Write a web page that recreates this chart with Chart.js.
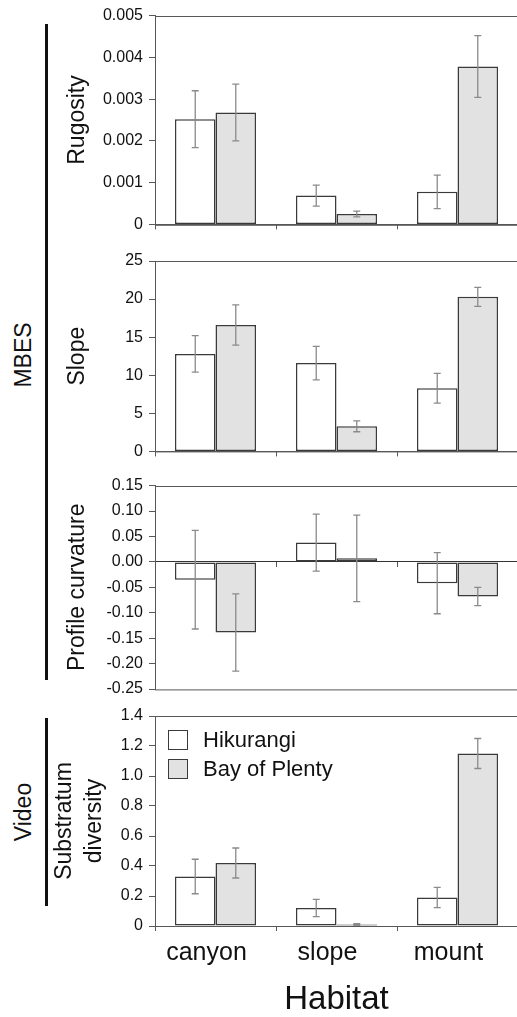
<!DOCTYPE html>
<html>
<head>
<meta charset="utf-8">
<script src="https://cdn.jsdelivr.net/npm/chart.js@4.4.1/dist/chart.umd.min.js"></script>
<style>
  html, body { margin: 0; padding: 0; background: #fff; overflow: hidden; }
  body { width: 517px; height: 1017px; position: relative; font-family: "Liberation Sans", Arial, sans-serif; color: #111; }
  canvas { position: absolute; left: 0; }
  .side { position: absolute; font-size: 23px; line-height: 1; white-space: nowrap; transform: translate(-50%, -50%) rotate(-90deg); }
  .bracket { position: absolute; left: 45px; width: 3px; background: #111; }
  .legend { position: absolute; left: 168px; top: 730px; font-size: 22px; }
  .legend .row { display: flex; align-items: center; height: 20px; margin-bottom: 9px; }
  .legend .box { box-sizing: border-box; width: 20px; height: 20px; border: 1.5px solid #3a3a3a; margin-right: 15px; }
</style>
</head>
<body>

<div class="bracket" style="top:24px;height:656px"></div>
<div class="bracket" style="top:718px;height:188px"></div>
<div class="side" style="left:23px;top:355px">MBES</div>
<div class="side" style="left:23px;top:812px">Video</div>

<canvas id="rugosity" width="530" height="240" style="top:0px"></canvas>
<canvas id="slope" width="530" height="222" style="top:245px"></canvas>
<canvas id="curvature" width="530" height="235" style="top:470px"></canvas>
<canvas id="substratum" width="530" height="320" style="top:700px"></canvas>

<div class="legend">
  <div class="row"><span class="box" style="background:#ffffff"></span>Hikurangi</div>
  <div class="row"><span class="box" style="background:#e2e2e2"></span>Bay of Plenty</div>
</div>

<script>
const habitats = ['canyon', 'slope', 'mount'];
const seriesNames = ['Hikurangi', 'Bay of Plenty'];

// Rugosity
const rugHik = [0.00252, 0.00069, 0.00078];
const rugHikErr = [0.00068, 0.00025, 0.0004];
const rugBop = [0.00268, 0.00025, 0.00378];
const rugBopErr = [0.00068, 0.00007, 0.00074];
const rugTicks = [0, 0.001, 0.002, 0.003, 0.004, 0.005];
const rugLabels = ['0', '0.001', '0.002', '0.003', '0.004', '0.005'];

// Slope
const slopeHik = [12.8, 11.6, 8.3];
const slopeHikErr = [2.4, 2.2, 1.95];
const slopeBop = [16.6, 3.3, 20.3];
const slopeBopErr = [2.65, 0.72, 1.25];
const slopeTicks = [0, 5, 10, 15, 20, 25];
const slopeLabels = ['0', '5', '10', '15', '20', '25'];

// Profile curvature
const curvHik = [-0.035, 0.038, -0.042];
const curvHikErr = [0.097, 0.056, 0.06];
const curvBop = [-0.139, 0.007, -0.068];
const curvBopErr = [0.076, 0.085, 0.018];
const curvTicks = [-0.25, -0.2, -0.15, -0.1, -0.05, 0, 0.05, 0.1, 0.15];
const curvLabels = ['-0.25', '-0.20', '-0.15', '-0.10', '-0.05', '0.00', '0.05', '0.10', '0.15'];

// Substratum diversity
const subHik = [0.33, 0.12, 0.19];
const subHikErr = [0.115, 0.058, 0.068];
const subBop = [0.42, 0.01, 1.15];
const subBopErr = [0.10, 0.005, 0.10];
const subTicks = [0, 0.2, 0.4, 0.6, 0.8, 1.0, 1.2, 1.4];
const subLabels = ['0', '0.2', '0.4', '0.6', '0.8', '1.0', '1.2', '1.4'];

Chart.defaults.font.family = '"Liberation Sans", Arial, sans-serif';
Chart.defaults.color = '#111';

const axisGray = '#585858';

// frame round the plot area
const frame = {
  id: 'frame',
  beforeDatasetsDraw(chart) {
    const { ctx, chartArea: a } = chart;
    ctx.save();
    ctx.strokeStyle = axisGray;
    ctx.lineWidth = 1;
    ctx.strokeRect(Math.round(a.left) + 0.5, Math.round(a.top) + 0.5, a.right - a.left, a.bottom - a.top);
    ctx.restore();
  }
};

// error bars from each dataset's errors array
const errorBars = {
  id: 'errorBars',
  afterDatasetsDraw(chart) {
    const ctx = chart.ctx;
    const y = chart.scales.y;
    ctx.save();
    ctx.strokeStyle = '#8a8a8a';
    ctx.lineWidth = 1.3;
    chart.data.datasets.forEach((ds, i) => {
      chart.getDatasetMeta(i).data.forEach((bar, j) => {
        const hi = y.getPixelForValue(ds.data[j] + ds.errors[j]);
        const lo = y.getPixelForValue(ds.data[j] - ds.errors[j]);
        ctx.beginPath();
        ctx.moveTo(bar.x, hi); ctx.lineTo(bar.x, lo);
        ctx.moveTo(bar.x - 3.5, hi); ctx.lineTo(bar.x + 3.5, hi);
        ctx.moveTo(bar.x - 3.5, lo); ctx.lineTo(bar.x + 3.5, lo);
        ctx.stroke();
      });
    });
    ctx.restore();
  }
};

function datasets(hik, hikErr, bop, bopErr) {
  return [
    { label: seriesNames[0], data: hik, errors: hikErr, backgroundColor: '#ffffff', borderColor: '#3a3a3a', borderWidth: 1.5, borderSkipped: false },
    { label: seriesNames[1], data: bop, errors: bopErr, backgroundColor: '#e2e2e2', borderColor: '#3a3a3a', borderWidth: 1.5, borderSkipped: false }
  ];
}

function yAxis(ticks, labels, title, titlePad, lineHeight) {
  return {
    min: ticks[0],
    max: ticks[ticks.length - 1],
    afterBuildTicks: s => { s.ticks = ticks.map(v => ({ value: v })); },
    afterFit: s => { s.width = 155; },
    ticks: { callback: (v, i) => labels[i], font: { size: 16 }, color: '#111', padding: 6 },
    grid: { drawOnChartArea: false, tickLength: 6, color: axisGray },
    border: { color: axisGray },
    title: { display: true, text: title, color: '#111', font: { size: 23, lineHeight: lineHeight }, padding: { top: titlePad, bottom: 0 } }
  };
}

function xAxis(height) {
  return {
    afterFit: s => { s.height = height; },
    grid: { offset: true, drawOnChartArea: false, tickLength: 5, color: axisGray },
    border: { color: axisGray },
    ticks: { display: false }
  };
}

function makeChart(id, data, x, y, padding) {
  return new Chart(document.getElementById(id), {
    type: 'bar',
    data: { labels: habitats, datasets: data },
    options: {
      responsive: false,
      animation: false,
      devicePixelRatio: 1,
      categoryPercentage: 0.67,
      barPercentage: 1.0,
      layout: { padding: padding },
      plugins: { legend: { display: false }, tooltip: { enabled: false } },
      scales: { x: x, y: y }
    },
    plugins: [frame, errorBars]
  });
}

// Rugosity
makeChart('rugosity',
  datasets(rugHik, rugHikErr, rugBop, rugBopErr),
  xAxis(11),
  yAxis(rugTicks, rugLabels, 'Rugosity', 64, 1.2),
  { top: 15, right: 12, bottom: 0, left: 0 });

// Slope
makeChart('slope',
  datasets(slopeHik, slopeHikErr, slopeBop, slopeBopErr),
  xAxis(11),
  yAxis(slopeTicks, slopeLabels, 'Slope', 64, 1.2),
  { top: 16, right: 12, bottom: 0, left: 0 });

// Profile curvature, x axis sits on zero
const curvX = xAxis(0);
curvX.position = { y: 0 };
curvX.border = { color: '#333' };
makeChart('curvature',
  datasets(curvHik, curvHikErr, curvBop, curvBopErr),
  curvX,
  yAxis(curvTicks, curvLabels, 'Profile curvature', 64, 1.2),
  { top: 15, right: 12, bottom: 16, left: 0 });

// Substratum diversity
const subX = xAxis(94);
subX.ticks = { display: true, font: { size: 25 }, color: '#111', padding: 7, labelOffset: -9 };
subX.title = { display: true, text: 'Habitat', color: '#111', font: { size: 33, lineHeight: 1.2 }, padding: 0 };
makeChart('substratum',
  datasets(subHik, subHikErr, subBop, subBopErr),
  subX,
  yAxis(subTicks, subLabels, ['Substratum', 'diversity'], 50, 1.3),
  { top: 16, right: 12, bottom: 0, left: 0 });
</script>
</body>
</html>
